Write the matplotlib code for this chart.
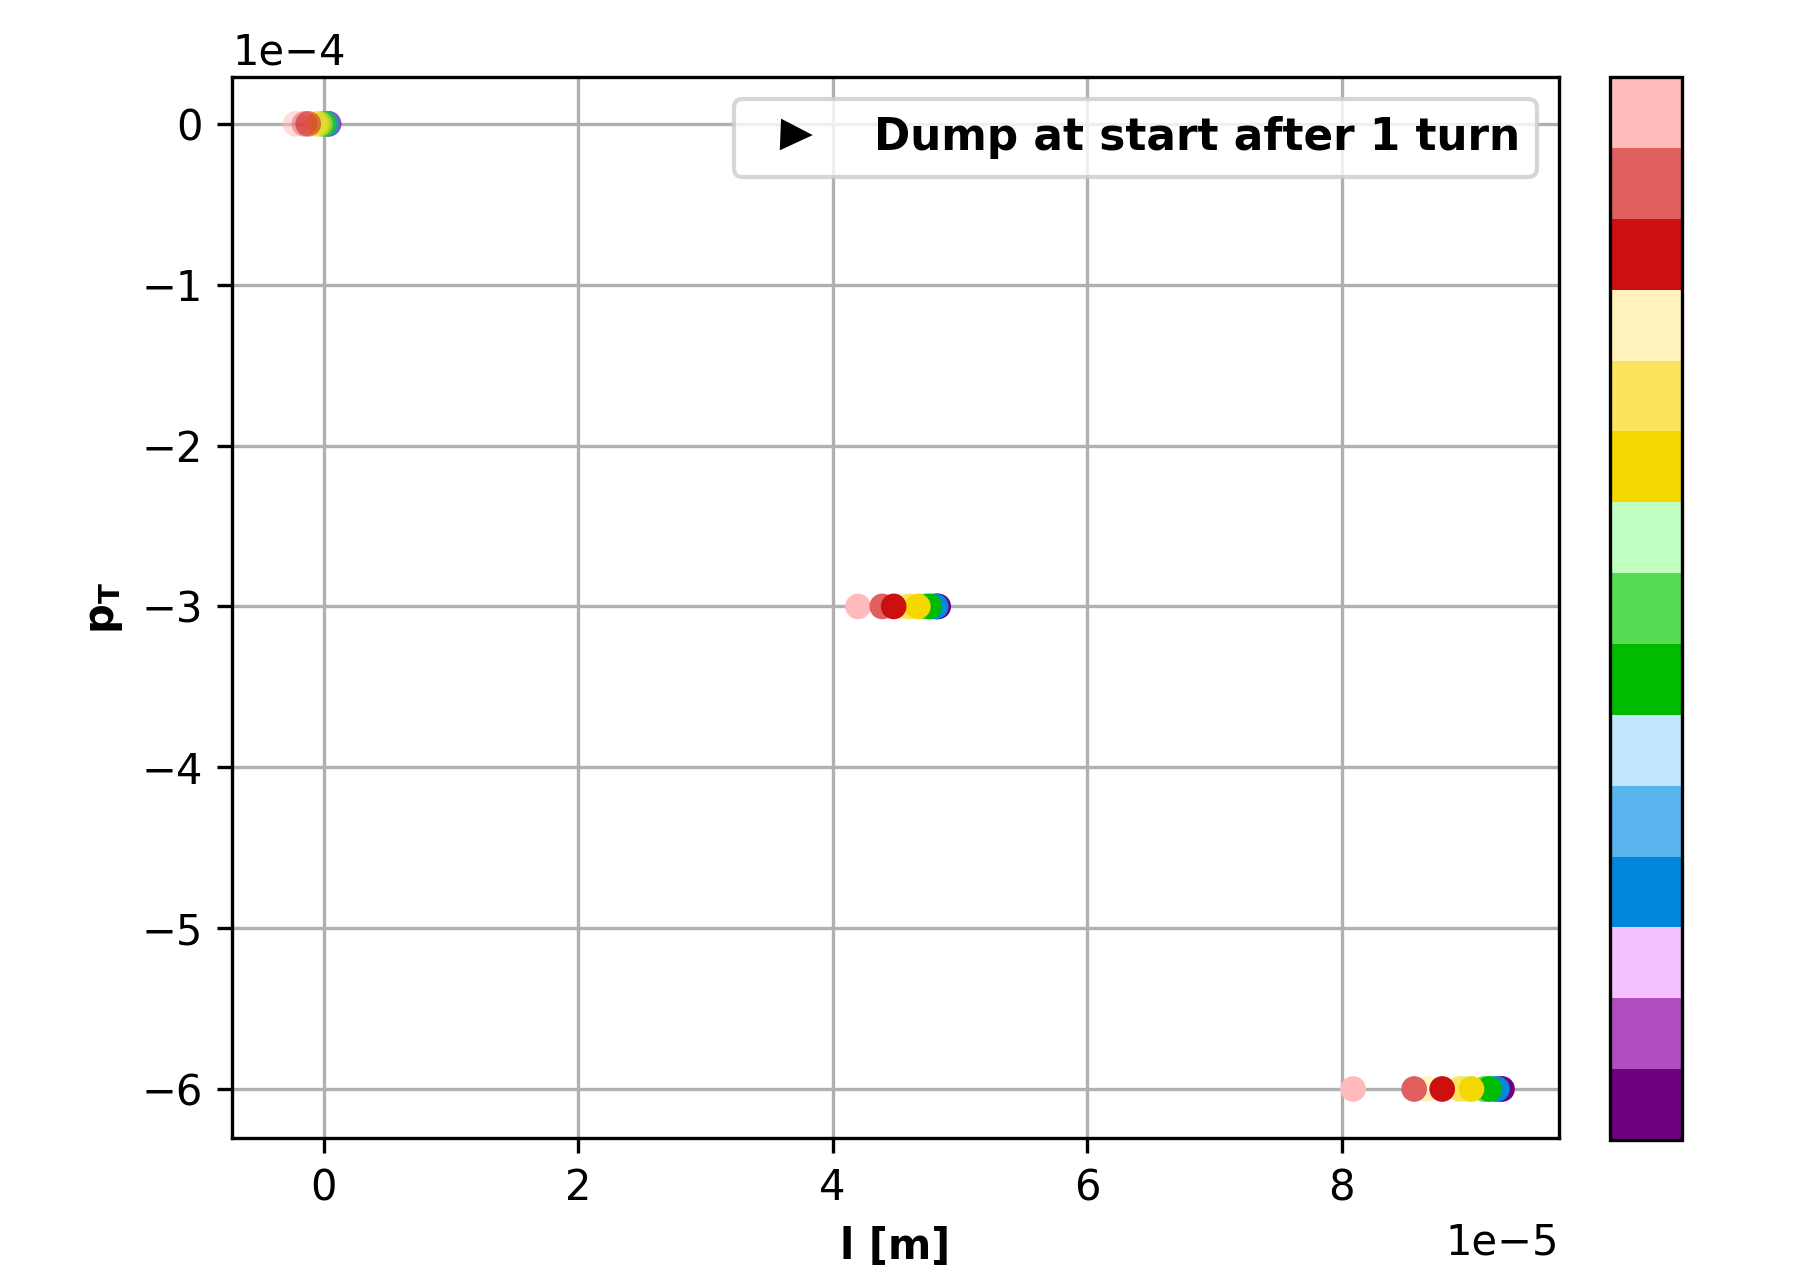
import numpy as np
import matplotlib.pyplot as plt
from matplotlib.colors import ListedColormap, BoundaryNorm
from matplotlib.cm import ScalarMappable

# particle colours, colormap order (index 0 = bottom of the colorbar)
particle_colors = [
    '#700080', '#b04ec0', '#f5c0ff',   # purple family
    '#0088dd', '#5ab4ee', '#c0e5ff',   # blue family
    '#00bb00', '#55dd55', '#c0ffc0',   # green family
    '#f5d800', '#fbe55c', '#fff3bb',   # yellow family
    '#cc1010', '#e06060', '#ffbbbb',   # red family
]

# momentum levels of the three bunches
pt_levels = [0.0, -3e-4, -6e-4]

# longitudinal position of each particle, same order as particle_colors [1e-5 m]
l_start = [0.04, 0.04, 0.03, 0.03, 0.02, 0.01, 0.01, 0.00, -0.02,
           -0.03, -0.05, -0.07, -0.12, -0.15, -0.22]
l_mid = [4.83, 4.82, 4.80, 4.81, 4.79, 4.76, 4.76, 4.73, 4.69,
         4.67, 4.60, 4.54, 4.48, 4.39, 4.20]
l_end = [9.26, 9.24, 9.21, 9.22, 9.20, 9.13, 9.16, 9.12, 8.98,
         9.02, 8.93, 8.67, 8.79, 8.57, 8.09]

cmap = ListedColormap(particle_colors)
norm = BoundaryNorm(np.arange(len(particle_colors) + 1) - 0.5, cmap.N)

# drawing order: family by family (purple first), pale shade first inside a family
order = []
for fam in range(5):
    order += [fam * 3 + 2, fam * 3 + 1, fam * 3]
order = np.array(order)

fig = plt.figure(figsize=(1793 / 300, 1269 / 300), dpi=300)
ax = fig.add_axes([0.1294, 0.1032, 0.7401, 0.8361])
cax = fig.add_axes([0.8979, 0.1016, 0.0402, 0.8377])

ax.grid(True, zorder=0)
ax.set_axisbelow(True)

for l_vals, pt, alpha in zip([l_start, l_mid, l_end], pt_levels, [0.5, 1.0, 1.0]):
    l_arr = np.array(l_vals)[order] * 1e-5
    idx = np.arange(len(particle_colors))[order]
    ax.scatter(l_arr, np.full(len(l_arr), pt), c=idx, cmap=cmap, norm=norm,
               s=38, alpha=alpha, linewidths=0, zorder=3)

ax.plot([], [], '>', color='k', label='Dump at start after 1 turn')
ax.legend(loc='upper right', prop={'weight': 'bold', 'size': 10.5})

ax.set_xlim(-0.719e-5, 9.708e-5)
ax.set_ylim(-6.305e-4, 0.291e-4)
ax.ticklabel_format(axis='both', style='sci', scilimits=(0, 0))
ax.set_xlabel('l [m]', fontweight='bold')
ax.set_ylabel(r'$\mathbf{p_T}$', fontweight='bold')

cb = fig.colorbar(ScalarMappable(norm=norm, cmap=cmap), cax=cax)
cb.set_ticks([])
cb.minorticks_off()

fig.savefig('out.png', dpi=300)
